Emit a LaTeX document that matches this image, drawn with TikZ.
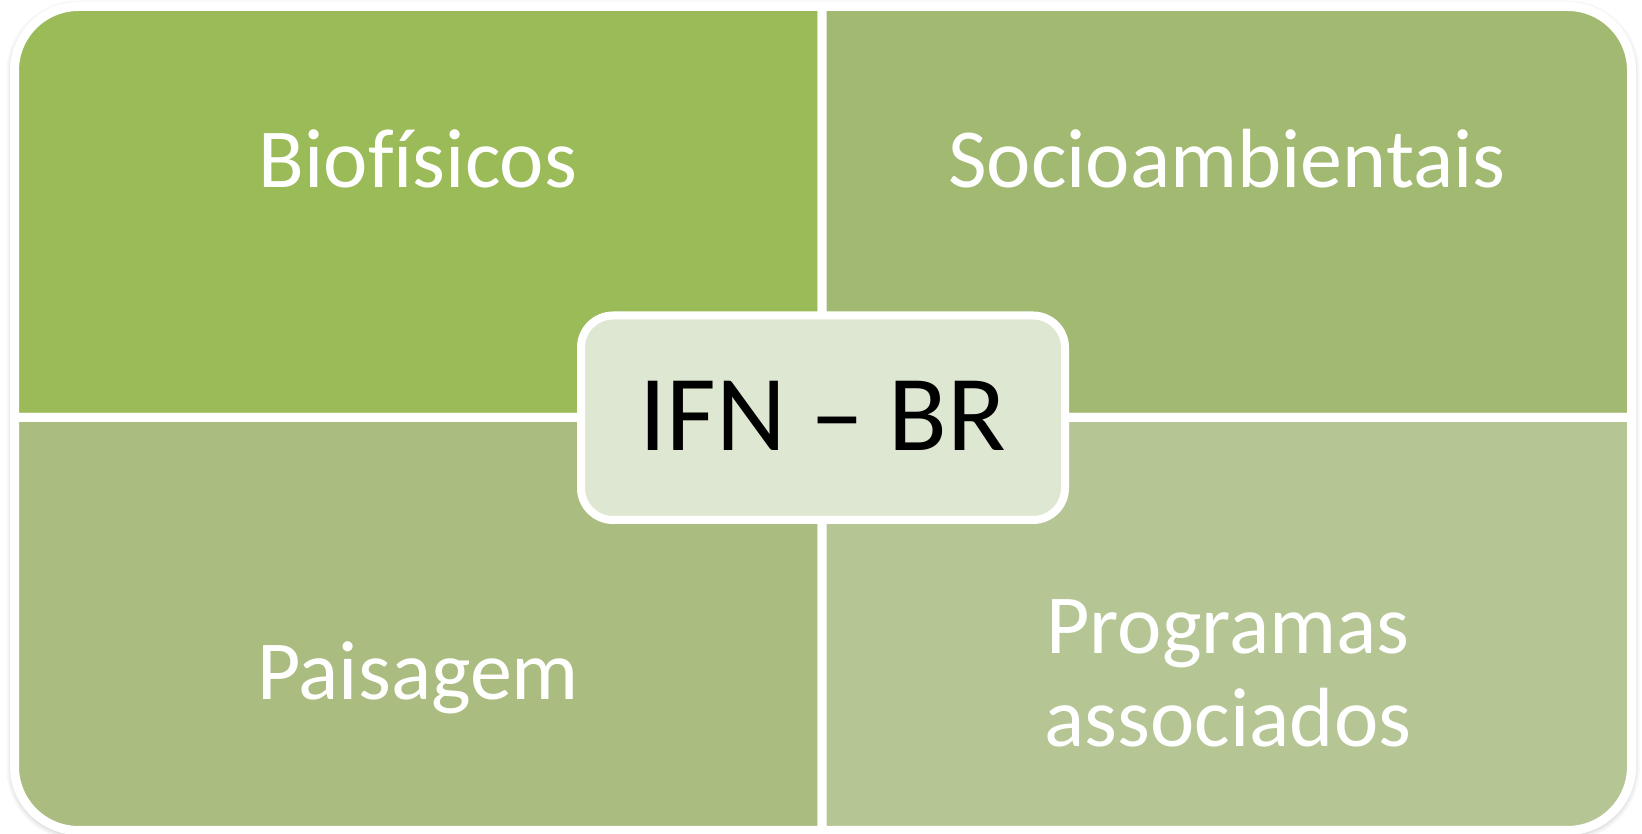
\documentclass[tikz,border=0pt]{standalone}
\usepackage{fontspec}
\setmainfont{Carlito}[Ligatures=CommonOff]
\usetikzlibrary{shadows}
\definecolor{qa}{HTML}{9BBB59}
\definecolor{qb}{HTML}{A2B972}
\definecolor{qc}{HTML}{AABC80}
\definecolor{qd}{HTML}{B5C694}
\definecolor{cbox}{HTML}{DEE7D1}
\begin{document}
\begin{tikzpicture}[x=0.5pt,y=0.5pt,
  quad/.style={draw=white,line width=4.5pt,line join=round},
  qlabel/.style={text=white,font=\fontsize{42}{46.5}\selectfont,inner sep=0pt,anchor=base,align=center},
  hub/.style={draw=white,line width=4pt,fill=cbox,rounded corners=16pt,
    minimum width=242pt,minimum height=102.25pt,inner sep=0pt,
    font=\fontsize{54}{60}\selectfont,text=black,
    drop shadow={opacity=0.35,shadow xshift=1pt,shadow yshift=-1.5pt}}]
\useasboundingbox[fill=white] (0,0) rectangle (1642,834);
% soft outer shadow
\foreach \w/\o in {8pt/0.03,6pt/0.04,4pt/0.05}
  \draw[black,opacity=\o,line width=\w,rounded corners=32pt] (14.5,1.5) rectangle (1631.5,825.5);
% quadrants
\draw[quad,fill=qa] (822,416.5) -- (14.5,416.5) -- (14.5,763.5)
  arc[start angle=180,end angle=90,radius=64] -- (822,827.5) -- cycle;
\draw[quad,fill=qb] (822,416.5) -- (822,827.5) -- (1567.5,827.5)
  arc[start angle=90,end angle=0,radius=64] -- (1631.5,416.5) -- cycle;
\draw[quad,fill=qc] (822,416.5) -- (822,3.5) -- (78.5,3.5)
  arc[start angle=270,end angle=180,radius=64] -- (14.5,416.5) -- cycle;
\draw[quad,fill=qd] (822,416.5) -- (1631.5,416.5) -- (1631.5,67.5)
  arc[start angle=0,end angle=-90,radius=64] -- (822,3.5) -- cycle;
% labels
\node[qlabel] (bio) at (418,646) {Biofísicos};
\node[qlabel] (socio) at (1227,646) {Socioambientais};
\node[qlabel] (pais) at (418,134) {Paisagem};
\node[qlabel] (prog) at (1228,87) {Programas\\associados};
% center
\node[hub,text depth=0pt] (ifn) at (823,416.25) {\raisebox{2pt}{IFN – BR}};
\end{tikzpicture}
\end{document}
